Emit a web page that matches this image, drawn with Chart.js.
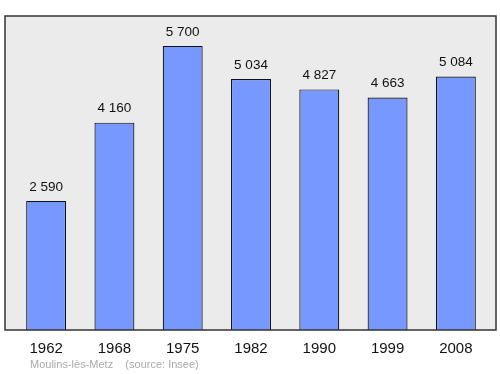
<!DOCTYPE html>
<html>
<head>
<meta charset="utf-8">
<script src="https://cdn.jsdelivr.net/npm/chart.js@4/dist/chart.umd.min.js"></script>
<style>
  html, body { margin: 0; padding: 0; background: #fff; }
  #wrap { width: 500px; height: 374px; }
</style>
</head>
<body>
<div id="wrap"><canvas id="myChart" width="500" height="374"></canvas></div>
<script>
"use strict";

var years = ['1962', '1968', '1975', '1982', '1990', '1999', '2008'];
var population = [2590, 4160, 5700, 5034, 4827, 4663, 5084];
var yMax = 6300;
var footer = 'Moulins-lès-Metz    (source: Insee)';

function formatNum(v) {
    return String(v).replace(/\B(?=(\d{3})+(?!\d))/g, ' ');
}

// grey panel with dark frame behind the bars
var panel = {
    id: 'panel',
    beforeDatasetsDraw: function (chart) {
        var a = chart.chartArea;
        var ctx = chart.ctx;
        ctx.save();
        ctx.fillStyle = '#ebebeb';
        ctx.fillRect(a.left - 7, a.top, a.right - a.left + 13, a.bottom - a.top);
        ctx.restore();
    },
    afterDatasetsDraw: function (chart) {
        var a = chart.chartArea;
        var ctx = chart.ctx;
        ctx.save();
        ctx.strokeStyle = '#333';
        ctx.lineWidth = 1.5;
        ctx.strokeRect(a.left - 7, a.top, a.right - a.left + 13, a.bottom - a.top);

        // value labels
        ctx.fillStyle = '#111';
        ctx.font = '13.5px "Liberation Sans", Arial, sans-serif';
        ctx.textAlign = 'center';
        ctx.textBaseline = 'middle';
        chart.getDatasetMeta(0).data.forEach(function (bar, i) {
            ctx.fillText(formatNum(population[i]), bar.x, bar.y - 14);
        });

        // footer
        ctx.fillStyle = '#aaa';
        ctx.font = '11px "Liberation Sans", Arial, sans-serif';
        ctx.textAlign = 'left';
        ctx.fillText(footer, 30, 365);
        ctx.restore();
    }
};

var salesChart = new Chart($Chart(), {
    type: 'bar',
    data: {
        labels: years,
        datasets: [{
            data: population,
            backgroundColor: '#7799ff',
            borderColor: '#111',
            borderWidth: 1.2,
            borderSkipped: 'bottom',
            barPercentage: 0.585,
            categoryPercentage: 1
        }]
    },
    options: {
        responsive: false,
        animation: false,
        layout: { padding: { left: 12, right: 10, top: 16, bottom: 14 } },
        plugins: {
            legend: { display: false },
            tooltip: { enabled: false }
        },
        scales: {
            x: {
                grid: { display: false },
                border: { display: false },
                ticks: {
                    color: '#111',
                    padding: 2,
                    font: { size: 15, family: '"Liberation Sans", Arial, sans-serif' }
                }
            },
            y: {
                display: false,
                min: 0,
                max: yMax
            }
        }
    },
    plugins: [panel]
});

function $Chart() {
    return document.getElementById('myChart');
}
</script>
</body>
</html>
